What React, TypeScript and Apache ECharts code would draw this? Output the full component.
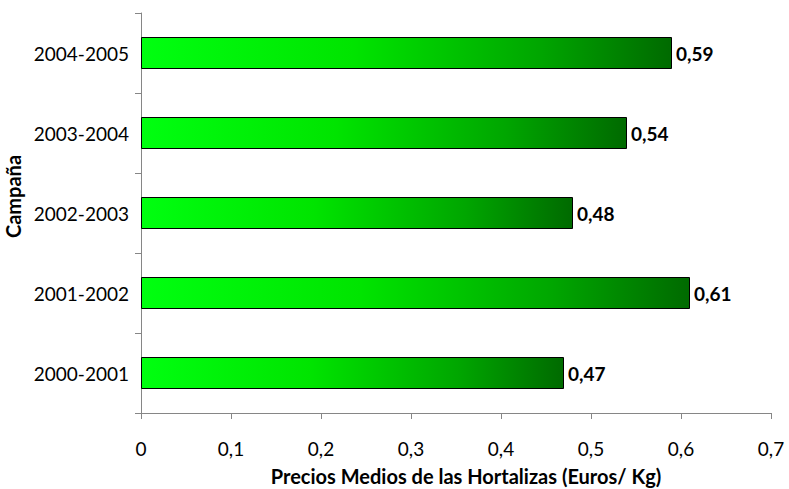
import React, { useEffect, useRef } from "react";
import * as echarts from "echarts";

const campaigns = ["2000-2001", "2001-2002", "2002-2003", "2003-2004", "2004-2005"];
const prices = [0.47, 0.61, 0.48, 0.54, 0.59];
const xTicks = [0, 0.1, 0.2, 0.3, 0.4, 0.5, 0.6, 0.7];

const FONT = "Lato, 'Open Sans', sans-serif";
const fmt = (v: number) => String(v).replace(".", ",");

export default function App() {
  const ref = useRef<HTMLDivElement>(null);

  useEffect(() => {
    if (!ref.current) return;
    const chart = echarts.init(ref.current, undefined, { renderer: "svg" });
    chart.setOption({
      animation: false,
      grid: {
        left: 141,
        right: 18,
        top: 13,
        bottom: 76,
        containLabel: false,
        outerBoundsMode: "none",
      },
      xAxis: {
        type: "value",
        min: xTicks[0],
        max: xTicks[xTicks.length - 1],
        interval: 0.1,
        name: "Precios Medios de las Hortalizas (Euros/ Kg)",
        nameLocation: "middle",
        nameGap: 53,
        nameTextStyle: {
          fontFamily: FONT,
          fontSize: 20,
          fontWeight: "bold",
          color: "#000",
          padding: [0, 0, 0, 20],
        },
        axisLine: { show: true, lineStyle: { color: "#868686", width: 1 } },
        axisTick: { show: true, length: 6, lineStyle: { color: "#868686" } },
        axisLabel: {
          fontFamily: FONT,
          fontSize: 19,
          color: "#000",
          margin: 26,
          formatter: (v: number) => fmt(Math.round(v * 10) / 10),
        },
        splitLine: { show: false },
      },
      yAxis: {
        type: "category",
        data: campaigns,
        name: "Campaña",
        nameLocation: "middle",
        nameGap: 113,
        nameTextStyle: {
          fontFamily: FONT,
          fontSize: 20,
          fontWeight: "bold",
          color: "#000",
          padding: [0, 0, 0, 33],
        },
        axisLine: { show: true, lineStyle: { color: "#868686", width: 1 } },
        axisTick: { show: true, length: 6, lineStyle: { color: "#868686" } },
        axisLabel: { fontFamily: FONT, fontSize: 19, color: "#000", margin: 12 },
      },
      series: [
        {
          type: "bar",
          data: prices,
          barWidth: 32,
          itemStyle: {
            borderColor: "#000",
            borderWidth: 1,
            color: new echarts.graphic.LinearGradient(0, 0, 1, 0, [
              { offset: 0, color: "#00ff10" },
              { offset: 0.4, color: "#00e400" },
              { offset: 0.75, color: "#00a600" },
              { offset: 1, color: "#006a00" },
            ]),
          },
          label: {
            show: true,
            position: "right",
            distance: 4,
            fontFamily: FONT,
            fontSize: 19,
            fontWeight: "bold",
            color: "#000",
            formatter: (p: any) => fmt(p.value),
          },
        },
      ],
    });
    return () => chart.dispose();
  }, []);

  return <div ref={ref} style={{ width: 789, height: 489, position: "absolute", left: 0, top: 0 }} />;
}
